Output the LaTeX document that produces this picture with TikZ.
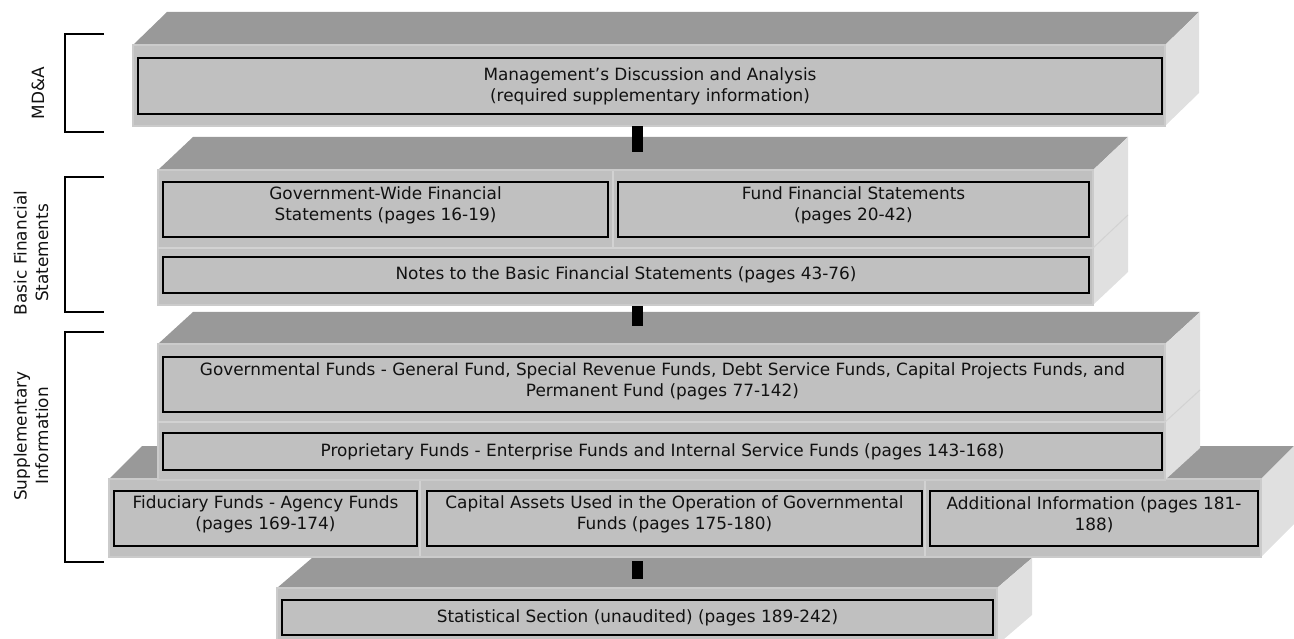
\documentclass[tikz,border=0pt]{standalone}
\usepackage{fontspec}
\setmainfont{DejaVu Sans}
\definecolor{topc}{HTML}{999999}
\definecolor{frontc}{HTML}{C0C0C0}
\definecolor{sidec}{HTML}{E0E0E0}
\definecolor{edgec}{HTML}{CBCBCB}
\definecolor{divc}{HTML}{D2D2D2}
\definecolor{textc}{HTML}{111111}
% slab: xl, yt, xr, yb, dx, dy, name
\newcommand\slab[7]{%
  \fill[topc] (#1,#2) -- ({#1+#5},{#2-#6}) -- ({#3+#5},{#2-#6}) -- (#3,#2) -- cycle;
  \fill[sidec] (#3,#2) -- ({#3+#5},{#2-#6}) -- ({#3+#5},{#4-#6}) -- (#3,#4) -- cycle;
  \node[front, minimum width={#3-#1}, minimum height={#4-#2}] (#7) at ({(#1+#3)/2},{(#2+#4)/2}) {};
}
\begin{document}
\begin{tikzpicture}[x=1pt,y=-1pt,
  front/.style={fill=frontc, draw=edgec, line width=2, inner sep=0, outer sep=0},
  inbox/.style={draw=black, line width=2, inner sep=0, outer sep=0},
  txt/.style={font=\fontsize{16.9}{21}\selectfont, align=center, inner sep=0, text=textc},
  lbl/.style={font=\fontsize{16.9}{21.5}\selectfont, align=center, inner sep=0, text=textc, rotate=90},
  divider/.style={draw=divc, line width=2.5},
  faint/.style={draw=divc, line width=1},
  conn/.style={fill=black},
  brk/.style={draw=black, line width=1.5}]
\useasboundingbox (0,0) rectangle (1294,639);

% ---- slab 1: MD&A
\slab{133}{45}{1165}{126}{34}{33}{s1}
\node[inbox, minimum width=1024, minimum height=56] (md) at (650,86) {};
\node[txt] at (md.center) {Management’s Discussion and Analysis\\(required supplementary information)};

% ---- slab 2: Basic financial statements
\slab{158}{170}{1093}{305}{35}{33}{s2}
\draw[divider] (s2.west |- 0,248) -- (s2.east |- 0,248);
\draw[divider] (613,171) -- (613,247);
\draw[faint] (1093,248) -- (1128,215);
\node[inbox, minimum width=445, minimum height=55] (gw) at (385.5,209.5) {};
\node[txt] at ([yshift=4]gw.center) {Government-Wide Financial\\Statements (pages 16-19)};
\node[inbox, minimum width=471, minimum height=55] (ff) at (853.5,209.5) {};
\node[txt] at ([yshift=4]ff.center) {Fund Financial Statements\\(pages 20-42)};
\node[inbox, minimum width=926, minimum height=36] (nt) at (626,275) {};
\node[txt] at (nt.center) {Notes to the Basic Financial Statements (pages 43-76)};

% ---- slab 4: three boxes row (drawn before slab 3)
\slab{109}{479}{1261}{557}{33}{33}{s4}
\draw[divider] (420,480) -- (420,556);
\draw[divider] (925,480) -- (925,556);
\node[inbox, minimum width=303, minimum height=55] (fd) at (265.5,518.5) {};
\node[txt] at ([yshift=4]fd.center) {Fiduciary Funds - Agency Funds\\(pages 169-174)};
\node[inbox, minimum width=495, minimum height=55] (ca) at (674.5,518.5) {};
\node[txt] at ([yshift=4]ca.center) {Capital Assets Used in the Operation of Governmental\\Funds (pages 175-180)};
\node[inbox, minimum width=328, minimum height=55] (ai) at (1094,518.5) {};
\node[txt] at ([yshift=4]ai.center) {Additional Information (pages 181-\\188)};

% ---- slab 3: supplementary (governmental + proprietary)
\slab{158}{344}{1165}{480}{35}{32}{s3}
\draw[divider] (s3.west |- 0,422) -- (s3.east |- 0,422);
\draw[faint] (1165,422) -- (1200,390);
\node[inbox, minimum width=999, minimum height=55] (gv) at (662.5,384.5) {};
\node[txt] at ([yshift=3.5]gv.center) {Governmental Funds - General Fund, Special Revenue Funds, Debt Service Funds, Capital Projects Funds, and\\Permanent Fund (pages 77-142)};
\node[inbox, minimum width=999, minimum height=37] (pf) at (662.5,451.5) {};
\node[txt] at (pf.center) {Proprietary Funds - Enterprise Funds and Internal Service Funds (pages 143-168)};

% ---- slab 5: statistical
\slab{277}{588}{997}{645}{35}{30}{s5}
\node[inbox, minimum width=711, minimum height=35] (st) at (637.5,617.5) {};
\node[txt] at (st.center) {Statistical Section (unaudited) (pages 189-242)};

% ---- connectors
\fill[conn] (632,126) rectangle (643,152);
\fill[conn] (632,306) rectangle (643,326);
\fill[conn] (632,561) rectangle (643,579);

% ---- brackets and labels
\draw[brk] (104,34) -- (65,34) -- (65,132) -- (104,132);
\draw[brk] (104,177) -- (65,177) -- (65,312) -- (104,312);
\draw[brk] (104,332) -- (65,332) -- (65,562) -- (104,562);
\node[lbl] at (38,93) {MD\&A};
\node[lbl] at (31,253) {Basic Financial\\Statements};
\node[lbl] at (31,436) {Supplementary\\Information};
\end{tikzpicture}
\end{document}
